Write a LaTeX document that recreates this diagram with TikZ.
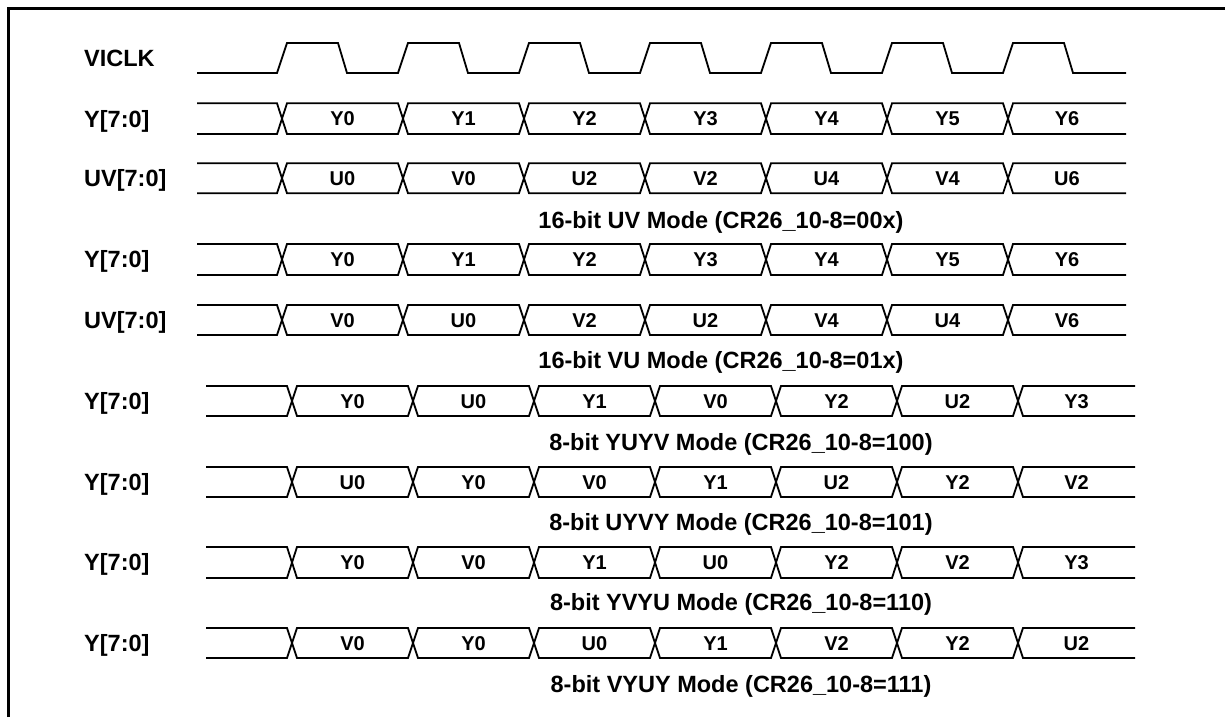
\documentclass[tikz,border=0pt]{standalone}
\usepackage{fontspec}
\setmainfont{Liberation Sans}
\tikzset{
  sig/.style={line width=1.8pt, line join=miter},
  frameline/.style={line width=2.7pt},
  lbl/.style={font=\bfseries\fontsize{23.5}{26}\selectfont, inner sep=0pt, anchor=west, text height=16.8pt, text depth=0pt},
  dat/.style={font=\bfseries\fontsize{20}{22}\selectfont, inner sep=0pt, text height=14.3pt, text depth=0pt},
  captxt/.style={font=\bfseries\fontsize{23.5}{26}\selectfont, inner sep=0pt, text height=16.8pt, text depth=0pt}
}
% #1 name, #2 top, #3 bottom, #4 xstart, #5 first crossing, #6 xend, #7 labels
\newcommand\busrow[7]{%
  \pgfmathsetmacro\rowmid{(#2+#3)/2}
  \draw[sig] (#4,#2) -- ({#5-5},#2) -- (#5,\rowmid) -- ({#5-5},#3) -- (#4,#3);
  \foreach \lab [count=\k from 0] in {#7}{
    \pgfmathsetmacro\ca{#5+121*\k}
    \ifnum\k<6
      \pgfmathsetmacro\cb{\ca+121}
      \draw[sig] (\ca,\rowmid) -- ({\ca+5},#2) -- ({\cb-5},#2) -- (\cb,\rowmid) -- ({\cb-5},#3) -- ({\ca+5},#3) -- cycle;
      \node[dat] (#1-\k) at ({(\ca+\cb)/2},\rowmid) {\lab};
    \else
      \draw[sig] (#6,#2) -- ({\ca+5},#2) -- (\ca,\rowmid) -- ({\ca+5},#3) -- (#6,#3);
      \node[dat] (#1-\k) at ({(\ca+#6)/2},\rowmid) {\lab};
    \fi
  }
}
\begin{document}
\begin{tikzpicture}[x=1pt,y=-1pt]
\useasboundingbox (0,0) rectangle (1225,717);
\draw[frameline] (8.3,717) -- (8.3,8.7) -- (1225,8.7);

% row labels
\node[lbl] (lclk) at (84,58) {VICLK};
\node[lbl] (ly1) at (84,118.7) {Y[7:0]};
\node[lbl] (luv1) at (84,178.3) {UV[7:0]};
\node[lbl] (ly2) at (84,259.5) {Y[7:0]};
\node[lbl] (luv2) at (84,320) {UV[7:0]};
\node[lbl] (ly3) at (84,401) {Y[7:0]};
\node[lbl] (ly4) at (84,482) {Y[7:0]};
\node[lbl] (ly5) at (84,562.5) {Y[7:0]};
\node[lbl] (ly6) at (84,643) {Y[7:0]};

% clock
\draw[sig] (197,73) \foreach \k in {0,...,6}{ -- ({282+121*\k-5},73) -- ({282+121*\k+5},43) -- ({342.5+121*\k-4.5},43) -- ({342.5+121*\k+4.5},73) } -- (1126,73);

% 16-bit rows
\busrow{ya}{103.3}{134}{197}{282}{1126}{Y0,Y1,Y2,Y3,Y4,Y5,Y6}
\busrow{uva}{163.3}{193.3}{197}{282}{1126}{U0,V0,U2,V2,U4,V4,U6}
\node[captxt] (cap1) at (721,220) {16-bit UV Mode (CR26\_10-8=00x)};
\busrow{yb}{244}{275}{197}{282}{1126}{Y0,Y1,Y2,Y3,Y4,Y5,Y6}
\busrow{uvb}{305}{335}{197}{282}{1126}{V0,U0,V2,U2,V4,U4,V6}
\node[captxt] (cap2) at (721,360) {16-bit VU Mode (CR26\_10-8=01x)};

% 8-bit rows
\busrow{yc}{386}{416}{206}{292}{1135}{Y0,U0,Y1,V0,Y2,U2,Y3}
\node[captxt] (cap3) at (741,442) {8-bit YUYV Mode (CR26\_10-8=100)};
\busrow{yd}{467}{497}{206}{292}{1135}{U0,Y0,V0,Y1,U2,Y2,V2}
\node[captxt] (cap4) at (741,522) {8-bit UYVY Mode (CR26\_10-8=101)};
\busrow{ye}{547}{578}{206}{292}{1135}{Y0,V0,Y1,U0,Y2,V2,Y3}
\node[captxt] (cap5) at (741,602) {8-bit YVYU Mode (CR26\_10-8=110)};
\busrow{yf}{628}{658}{206}{292}{1135}{V0,Y0,U0,Y1,V2,Y2,U2}
\node[captxt] (cap6) at (741,684) {8-bit VYUY Mode (CR26\_10-8=111)};
\end{tikzpicture}
\end{document}
